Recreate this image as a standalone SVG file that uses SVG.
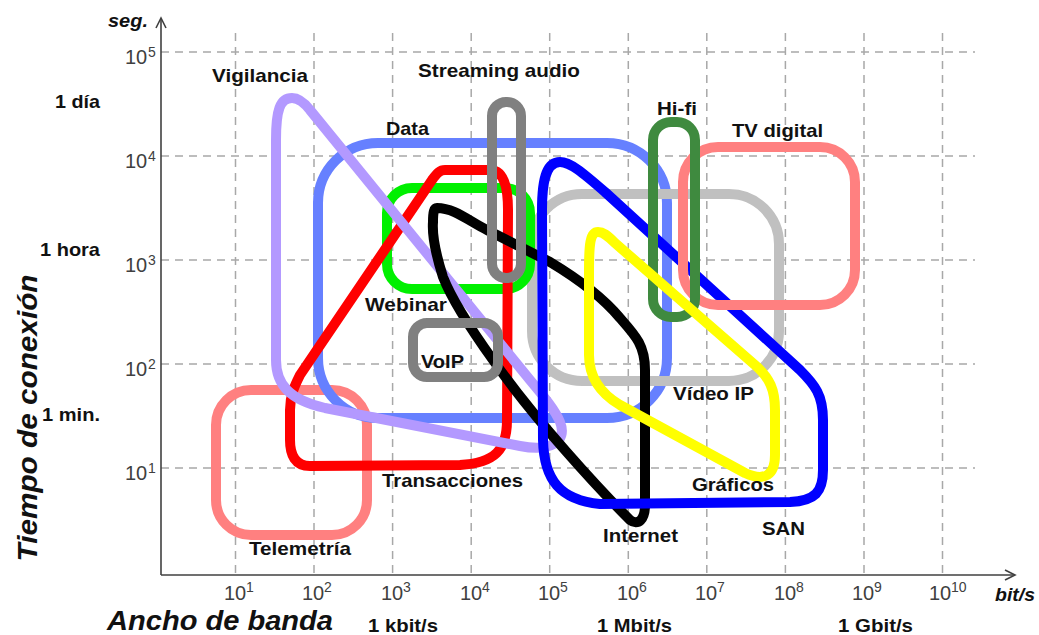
<svg xmlns="http://www.w3.org/2000/svg" width="1039" height="635" viewBox="0 0 1039 635">
<defs>
<style>
.grid{stroke:#A8A8A8;stroke-width:1.5;stroke-dasharray:8 6;fill:none}
.axis{stroke:#404040;stroke-width:1.6;fill:none}
.tk{font-family:"Liberation Sans",Arial,sans-serif;font-size:20px;fill:#404040}
.sp{font-family:"Liberation Sans",Arial,sans-serif;font-size:14px;fill:#404040}
.lbl{font-family:"Liberation Sans",Arial,sans-serif;font-size:18.5px;font-weight:bold;fill:#111}
.ax{font-family:"Liberation Sans",Arial,sans-serif;font-weight:bold;font-style:italic;fill:#111}
.sh{fill:none;stroke-width:10;stroke-linejoin:round}
</style>
</defs>
<rect width="1039" height="635" fill="#fff"/>
<g id="grid">
<line class="grid" x1="235.5" y1="33" x2="235.5" y2="575"/>
<line class="grid" x1="314" y1="33" x2="314" y2="575"/>
<line class="grid" x1="392.6" y1="33" x2="392.6" y2="575"/>
<line class="grid" x1="471.2" y1="33" x2="471.2" y2="575"/>
<line class="grid" x1="549.7" y1="33" x2="549.7" y2="575"/>
<line class="grid" x1="628.3" y1="33" x2="628.3" y2="575"/>
<line class="grid" x1="706.8" y1="33" x2="706.8" y2="575"/>
<line class="grid" x1="785.4" y1="33" x2="785.4" y2="575"/>
<line class="grid" x1="864" y1="33" x2="864" y2="575"/>
<line class="grid" x1="942.5" y1="33" x2="942.5" y2="575"/>
<line class="grid" x1="161" y1="52" x2="975" y2="52"/>
<line class="grid" x1="161" y1="156" x2="975" y2="156"/>
<line class="grid" x1="161" y1="260" x2="975" y2="260"/>
<line class="grid" x1="161" y1="364" x2="975" y2="364"/>
<line class="grid" x1="161" y1="468" x2="975" y2="468"/>
</g>
<g id="axes">
<line class="axis" x1="161" y1="575" x2="161" y2="19"/>
<polyline class="axis" points="156,28 161,18 166,28"/>
<line class="axis" x1="161" y1="575" x2="1015" y2="575"/>
<polyline class="axis" points="1005,570 1015,575 1005,580"/>
<text class="ax" x="108" y="27" font-size="19" textLength="40" lengthAdjust="spacingAndGlyphs">seg.</text>
<text class="ax" x="995" y="601" font-size="19" textLength="40" lengthAdjust="spacingAndGlyphs">bit/s</text>
<text class="ax" x="107" y="630" font-size="28" textLength="226" lengthAdjust="spacingAndGlyphs">Ancho de banda</text>
<text class="ax" transform="translate(37,418) rotate(-90)" text-anchor="middle" font-size="28" textLength="287" lengthAdjust="spacingAndGlyphs">Tiempo de conexión</text>
<text class="lbl" x="55" y="108" textLength="45" lengthAdjust="spacingAndGlyphs">1 día</text>
<text class="lbl" x="40" y="256" textLength="60" lengthAdjust="spacingAndGlyphs">1 hora</text>
<text class="lbl" x="42" y="421" textLength="58" lengthAdjust="spacingAndGlyphs">1 min.</text>
<text class="lbl" x="368" y="632" textLength="70" lengthAdjust="spacingAndGlyphs">1 kbit/s</text>
<text class="lbl" x="597" y="632" textLength="75" lengthAdjust="spacingAndGlyphs">1 Mbit/s</text>
<text class="lbl" x="838" y="632" textLength="75" lengthAdjust="spacingAndGlyphs">1 Gbit/s</text>
</g>
<g id="ticks">
<text class="tk" x="125" y="64">10</text><text class="sp" x="148" y="57">5</text>
<text class="tk" x="125" y="168">10</text><text class="sp" x="148" y="161">4</text>
<text class="tk" x="125" y="272">10</text><text class="sp" x="148" y="265">3</text>
<text class="tk" x="125" y="376">10</text><text class="sp" x="148" y="369">2</text>
<text class="tk" x="125" y="480">10</text><text class="sp" x="148" y="473">1</text>
<text class="tk" x="224" y="600">10</text><text class="sp" x="246" y="592">1</text>
<text class="tk" x="302" y="600">10</text><text class="sp" x="324" y="592">2</text>
<text class="tk" x="381" y="600">10</text><text class="sp" x="403" y="592">3</text>
<text class="tk" x="460" y="600">10</text><text class="sp" x="482" y="592">4</text>
<text class="tk" x="538" y="600">10</text><text class="sp" x="560" y="592">5</text>
<text class="tk" x="617" y="600">10</text><text class="sp" x="639" y="592">6</text>
<text class="tk" x="695" y="600">10</text><text class="sp" x="717" y="592">7</text>
<text class="tk" x="774" y="600">10</text><text class="sp" x="796" y="592">8</text>
<text class="tk" x="852" y="600">10</text><text class="sp" x="874" y="592">9</text>
<text class="tk" x="929" y="600">10</text><text class="sp" x="951" y="592">10</text>
</g>
<g id="telemetria">
<rect class="sh" x="216" y="390" width="151" height="145" rx="35" stroke="#FF8080"/>
<text class="lbl" x="249" y="555" textLength="102" lengthAdjust="spacingAndGlyphs">Telemetría</text>
</g>
<g id="data">
<rect class="sh" x="318" y="143" width="349" height="275" rx="60" stroke="#6680FF"/>
<text class="lbl" x="386" y="135" textLength="43" lengthAdjust="spacingAndGlyphs">Data</text>
</g>
<g id="video-ip">
<rect class="sh" x="532" y="194" width="247" height="187" rx="50" stroke="#C0C0C0"/>
<text class="lbl" x="673" y="400" textLength="81" lengthAdjust="spacingAndGlyphs">Vídeo IP</text>
</g>
<g id="webinar">
<rect class="sh" x="387" y="188" width="143" height="101" rx="25" stroke="#00F000"/>
<text class="lbl" x="365" y="311" textLength="82" lengthAdjust="spacingAndGlyphs">Webinar</text>
</g>
<g id="transacciones">
<path class="sh" stroke="#FF0000" d="M445,170 L490,170 C503,170 508,185 508,210 L507,420 C507,450 495,463 460,465 L310,466 C295,466 290,455 290,440 L290,410 C290,395 295,385 300,375 L432,180 C437,173 440,170 445,170 Z"/>
<text class="lbl" x="382" y="487" textLength="141" lengthAdjust="spacingAndGlyphs">Transacciones</text>
</g>
<g id="vigilancia">
<path class="sh" stroke="#B399FF" d="M292,98 C280,98 276,110 276,140 L276,360 C276,385 290,400 325,408 L520,446 C550,452 568,442 560,422 C555,410 545,398 530,380 L310,110 C303,101 298,98 292,98 Z"/>
<text class="lbl" x="212" y="82" textLength="96" lengthAdjust="spacingAndGlyphs">Vigilancia</text>
</g>
<g id="internet">
<path class="sh" stroke="#000000" d="M437,208 C455,208 470,222 487,230 L550,262 C580,280 605,300 620,318 C635,335 645,345 645,370 L645,505 C645,520 638,526 630,520 C600,490 535,420 493,360 C470,328 452,300 443,277 C436,255 432,235 433,222 C433,212 434,208 437,208 Z"/>
<text class="lbl" x="603" y="542" textLength="75" lengthAdjust="spacingAndGlyphs">Internet</text>
</g>
<g id="streaming-audio">
<rect class="sh" x="492" y="102" width="29" height="176" rx="14" stroke="#808080"/>
<text class="lbl" x="418" y="77" textLength="162" lengthAdjust="spacingAndGlyphs">Streaming audio</text>
</g>
<g id="voip">
<rect class="sh" x="413" y="323" width="85" height="54" rx="14" stroke="#808080"/>
<text class="lbl" x="421" y="368" textLength="43" lengthAdjust="spacingAndGlyphs">VoIP</text>
</g>
<g id="san">
<path class="sh" stroke="#0000FF" d="M560,162 C548,162 542,175 542,210 L543,440 C544,480 560,500 600,504 L790,502 C815,501 823,492 823,470 L823,420 C823,395 815,385 800,370 L605,192 C582,172 570,162 560,162 Z"/>
<text class="lbl" x="762" y="535" textLength="43" lengthAdjust="spacingAndGlyphs">SAN</text>
</g>
<g id="tv-digital">
<rect class="sh" x="683" y="147" width="172" height="158" rx="35" stroke="#FF8080"/>
<text class="lbl" x="732" y="137" textLength="91" lengthAdjust="spacingAndGlyphs">TV digital</text>
</g>
<g id="hi-fi">
<rect class="sh" x="653" y="122" width="42" height="195" rx="18" stroke="#3F8A3F"/>
<text class="lbl" x="657" y="115" textLength="40" lengthAdjust="spacingAndGlyphs">Hi-fi</text>
</g>
<g id="graficos">
<path class="sh" stroke="#FFFF00" d="M598,232 C590,232 589,245 589,270 L589,355 C589,375 598,392 620,405 L745,473 C765,482 775,475 775,455 L775,410 C775,390 770,378 755,365 L615,243 C607,235 603,232 598,232 Z"/>
<text class="lbl" x="692" y="491" textLength="82" lengthAdjust="spacingAndGlyphs">Gráficos</text>
</g>
</svg>
